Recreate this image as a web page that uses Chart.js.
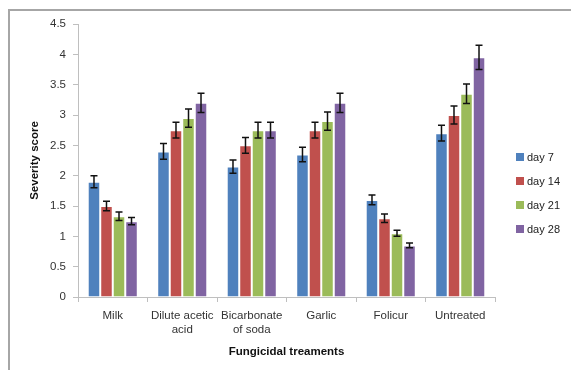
<!DOCTYPE html>
<html>
<head>
<meta charset="utf-8">
<script src="https://cdn.jsdelivr.net/npm/chart.js@4/dist/chart.umd.min.js"></script>
<style>
    html, body { margin: 0; padding: 0; background: #fff; overflow: hidden; }
    #wrap { position: relative; width: 571px; height: 370px; }
    #frame { position: absolute; left: 8px; top: 9px; width: 700px; height: 500px; border-left: 2px solid #a6a6a6; border-top: 2px solid #a6a6a6; }
    #chart { position: absolute; left: 0; top: 0; }
    #legend { position: absolute; left: 516px; top: 150px; font-family: "Liberation Sans", Arial, sans-serif; font-size: 11px; color: #222; }
    #legend div { height: 24px; line-height: 14px; display: flex; align-items: flex-start; }
    #legend span.box { display: inline-block; width: 8px; height: 8px; margin: 3px 3px 0 0; }
</style>
</head>
<body>
<div id="wrap">
    <div id="frame"></div>
    <canvas id="chart" width="571" height="370"></canvas>
    <div id="legend"></div>
</div>
<script>
// Data
const treatments = ['Milk', ['Dilute acetic', 'acid'], ['Bicarbonate', 'of soda'], 'Garlic', 'Folicur', 'Untreated'];
const seriesNames = ['day 7', 'day 14', 'day 21', 'day 28'];
const seriesColors = ['#4F81BD', '#C0504D', '#9BBB59', '#8064A2'];

const day7 = [1.9, 2.4, 2.15, 2.35, 1.6, 2.7];
const day14 = [1.5, 2.75, 2.5, 2.75, 1.3, 3.0];
const day21 = [1.33, 2.95, 2.75, 2.9, 1.05, 3.35];
const day28 = [1.25, 3.2, 2.75, 3.2, 0.85, 3.95];

const err7 = [0.1, 0.13, 0.11, 0.12, 0.08, 0.13];
const err14 = [0.08, 0.13, 0.13, 0.13, 0.07, 0.15];
const err21 = [0.07, 0.15, 0.13, 0.15, 0.05, 0.16];
const err28 = [0.06, 0.16, 0.13, 0.16, 0.04, 0.2];

const yTicks = [0, 0.5, 1, 1.5, 2, 2.5, 3, 3.5, 4, 4.5];

const values = [day7, day14, day21, day28];
const errors = [err7, err14, err21, err28];

// Error bars drawn from the y scale
const errorBarPlugin = {
    id: 'errorBars',
    afterDatasetsDraw(chart) {
        const ctx = chart.ctx;
        const yScale = chart.scales.y;
        ctx.save();
        ctx.strokeStyle = '#111';
        ctx.lineWidth = 1.5;
        chart.data.datasets.forEach((ds, i) => {
            const meta = chart.getDatasetMeta(i);
            meta.data.forEach((bar, j) => {
                const v = ds.data[j];
                const e = ds.errors[j];
                const top = yScale.getPixelForValue(v + e);
                const bot = yScale.getPixelForValue(v - e);
                const x = bar.x;
                ctx.beginPath();
                ctx.moveTo(x, top);
                ctx.lineTo(x, bot);
                ctx.moveTo(x - 3.5, top);
                ctx.lineTo(x + 3.5, top);
                ctx.moveTo(x - 3.5, bot);
                ctx.lineTo(x + 3.5, bot);
                ctx.stroke();
            });
        });
        ctx.restore();
    }
};

const datasets = seriesNames.map((name, i) => ({
    label: name,
    data: values[i],
    errors: errors[i],
    backgroundColor: seriesColors[i],
    borderColor: 'rgba(255,255,255,0.35)',
    borderWidth: 1,
    categoryPercentage: 0.72,
    barPercentage: 1.0
}));

const tickFont = { family: '"Liberation Sans", Arial, sans-serif', size: 11.5 };
const titleFont = { family: '"Liberation Sans", Arial, sans-serif', size: 11.5, weight: 'bold' };

new Chart(document.getElementById('chart'), {
    type: 'bar',
    data: { labels: treatments, datasets: datasets },
    options: {
        responsive: false,
        animation: false,
        layout: { padding: { top: 24, right: 76, left: 0, bottom: 0 } },
        plugins: {
            legend: { display: false },
            tooltip: { enabled: false }
        },
        scales: {
            x: {
                grid: { drawOnChartArea: false, tickLength: 5, color: '#bfbfbf' },
                border: { color: '#bfbfbf' },
                ticks: {
                    font: Object.assign({ lineHeight: 1.22 }, tickFont),
                    color: '#333',
                    padding: 7,
                    maxRotation: 0,
                    autoSkip: false
                },
                title: {
                    display: true,
                    text: 'Fungicidal treaments',
                    font: titleFont,
                    color: '#111',
                    padding: { top: 11, bottom: 11 }
                },
                afterFit(scale) { scale.height = 73; }
            },
            y: {
                min: 0,
                max: 4.5,
                afterBuildTicks(scale) { scale.ticks = yTicks.map(v => ({ value: v })); },
                grid: { drawOnChartArea: false, tickLength: 5, color: '#bfbfbf' },
                border: { color: '#bfbfbf' },
                ticks: {
                    font: tickFont,
                    color: '#333',
                    padding: 7,
                    callback: value => String(value)
                },
                title: {
                    display: true,
                    text: 'Severity score',
                    font: titleFont,
                    color: '#111',
                    padding: { top: 28, bottom: 0 }
                },
                afterFit(scale) { scale.width = 78; }
            }
        }
    },
    plugins: [errorBarPlugin]
});

// Legend
const legend = document.getElementById('legend');
seriesNames.forEach((name, i) => {
    const row = document.createElement('div');
    const box = document.createElement('span');
    box.className = 'box';
    box.style.background = seriesColors[i];
    row.appendChild(box);
    row.appendChild(document.createTextNode(name));
    legend.appendChild(row);
});
</script>
</body>
</html>
